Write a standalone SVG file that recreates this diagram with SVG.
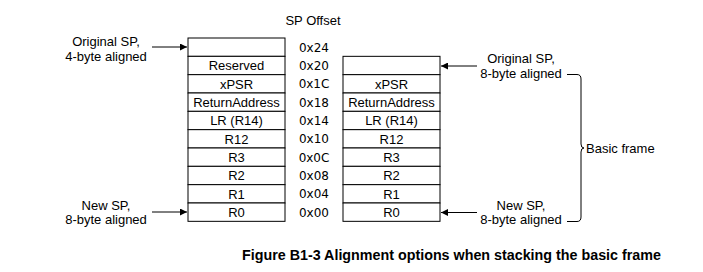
<svg xmlns="http://www.w3.org/2000/svg" width="703" height="272" viewBox="0 0 703 272">
<style>
.cell{fill:#fff;stroke:#000;stroke-width:1}
.t{font-family:"Liberation Sans",Arial,sans-serif;font-size:13px;fill:#000}
.c{text-anchor:middle}
.off{font-family:"DejaVu Sans",Verdana,sans-serif;font-size:12px;fill:#000;text-anchor:middle}
.cap{font-family:"Liberation Sans",Arial,sans-serif;font-size:14.3px;font-weight:bold;fill:#000}
.ln{stroke:#000;stroke-width:1;fill:none}
</style>
<defs>
<marker id="ah" viewBox="0 0 10 10" refX="10" refY="5" markerWidth="8" markerHeight="7" markerUnits="userSpaceOnUse" orient="auto">
<path d="M0,0 L10,5 L0,10 z" fill="#000"/>
</marker>
</defs>
<rect width="703" height="272" fill="#fff"/>
<text class="t" x="313" y="25" text-anchor="middle">SP Offset</text>
<g id="left-stack">
<rect class="cell" x="188" y="38" width="97" height="18.33"/>
<rect class="cell" x="188" y="56.33" width="97" height="18.33"/>
<rect class="cell" x="188" y="74.67" width="97" height="18.33"/>
<rect class="cell" x="188" y="93" width="97" height="18.33"/>
<rect class="cell" x="188" y="111.33" width="97" height="18.33"/>
<rect class="cell" x="188" y="129.67" width="97" height="18.33"/>
<rect class="cell" x="188" y="148" width="97" height="18.33"/>
<rect class="cell" x="188" y="166.33" width="97" height="18.33"/>
<rect class="cell" x="188" y="184.67" width="97" height="18.33"/>
<rect class="cell" x="188" y="203" width="97" height="18.33"/>
<text class="t c" x="236.5" y="70">Reserved</text>
<text class="t c" x="236.5" y="88.5">xPSR</text>
<text class="t c" x="236.5" y="106.8">ReturnAddress</text>
<text class="t c" x="236.5" y="125">LR (R14)</text>
<text class="t c" x="236.5" y="143.5">R12</text>
<text class="t c" x="236.5" y="161.8">R3</text>
<text class="t c" x="236.5" y="180.2">R2</text>
<text class="t c" x="236.5" y="198.5">R1</text>
<text class="t c" x="236.5" y="216.8">R0</text>
</g>
<g id="offsets">
<text class="off" x="314" y="51.5">0x24</text>
<text class="off" x="314" y="69.8">0x20</text>
<text class="off" x="314" y="88.2">0x1C</text>
<text class="off" x="314" y="106.5">0x18</text>
<text class="off" x="314" y="124.8">0x14</text>
<text class="off" x="314" y="143.2">0x10</text>
<text class="off" x="314" y="161.5">0x0C</text>
<text class="off" x="314" y="179.8">0x08</text>
<text class="off" x="314" y="198.2">0x04</text>
<text class="off" x="314" y="216.5">0x00</text>
</g>
<g id="right-stack">
<rect class="cell" x="343" y="56.33" width="97" height="18.33"/>
<rect class="cell" x="343" y="74.67" width="97" height="18.33"/>
<rect class="cell" x="343" y="93" width="97" height="18.33"/>
<rect class="cell" x="343" y="111.33" width="97" height="18.33"/>
<rect class="cell" x="343" y="129.67" width="97" height="18.33"/>
<rect class="cell" x="343" y="148" width="97" height="18.33"/>
<rect class="cell" x="343" y="166.33" width="97" height="18.33"/>
<rect class="cell" x="343" y="184.67" width="97" height="18.33"/>
<rect class="cell" x="343" y="203" width="97" height="18.33"/>
<text class="t c" x="391.5" y="88.5">xPSR</text>
<text class="t c" x="391.5" y="106.8">ReturnAddress</text>
<text class="t c" x="391.5" y="125">LR (R14)</text>
<text class="t c" x="391.5" y="143.5">R12</text>
<text class="t c" x="391.5" y="161.8">R3</text>
<text class="t c" x="391.5" y="180.2">R2</text>
<text class="t c" x="391.5" y="198.5">R1</text>
<text class="t c" x="391.5" y="216.8">R0</text>
</g>
<g id="label-left-orig">
<text class="t c" x="106" y="45.5">Original SP,</text>
<text class="t c" x="106" y="60.5">4-byte aligned</text>
</g>
<g id="label-left-new">
<text class="t c" x="106" y="209.5">New SP,</text>
<text class="t c" x="106" y="224">8-byte aligned</text>
</g>
<g id="label-right-orig">
<text class="t c" x="521" y="62.5">Original SP,</text>
<text class="t c" x="521" y="77.5">8-byte aligned</text>
</g>
<g id="label-right-new">
<text class="t c" x="521" y="209.5">New SP,</text>
<text class="t c" x="521" y="224">8-byte aligned</text>
</g>
<g id="label-basic">
<text class="t" x="586" y="152.5">Basic frame</text>
</g>
<g id="connectors">
<line class="ln" x1="152" y1="47" x2="187" y2="47" marker-end="url(#ah)"/>
<line class="ln" x1="152" y1="212" x2="187" y2="212" marker-end="url(#ah)"/>
<line class="ln" x1="477" y1="66" x2="441" y2="66" marker-end="url(#ah)"/>
<line class="ln" x1="477" y1="212.5" x2="441" y2="212.5" marker-end="url(#ah)"/>
<path class="ln" d="M567,74.5 L577,74.5 Q581,74.5 581,79 L581,144 Q581,148 584,148 Q581,148 581,152 L581,217 Q581,221.5 577,221.5 L567,221.5"/>
</g>
<text class="cap" x="242" y="259.5">Figure B1-3 Alignment options when stacking the basic frame</text>
</svg>
